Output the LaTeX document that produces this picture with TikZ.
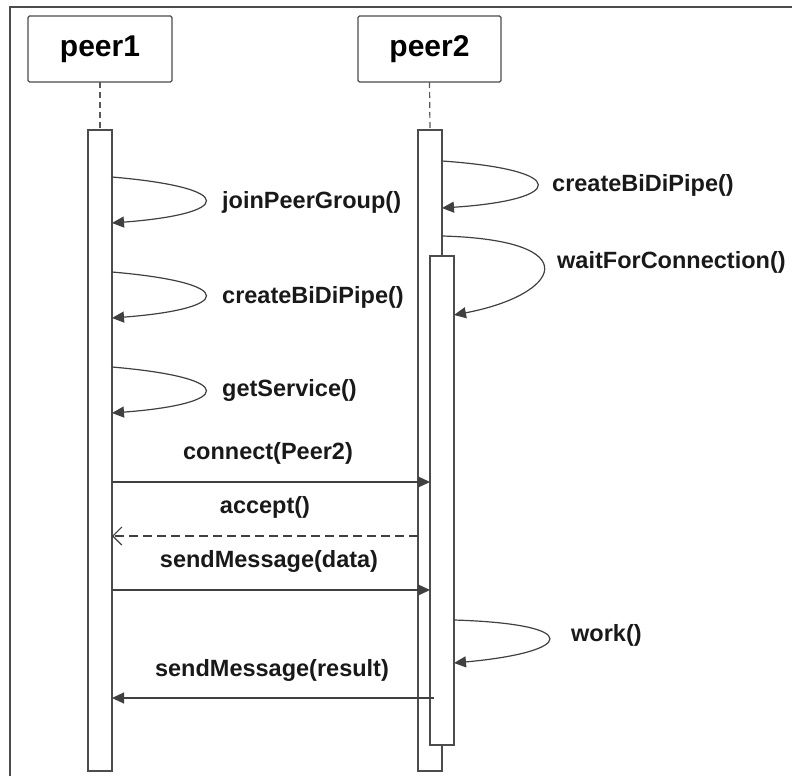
\documentclass[tikz,border=0pt]{standalone}
\usepackage{fontspec}
\setmainfont{Liberation Sans}
\usetikzlibrary{arrows.meta}

\begin{document}
\begin{tikzpicture}[x=1pt, y=-1pt, >={Triangle[length=12pt,width=11pt]},
    lineclr/.style={draw=black!70},
    peerbox/.style={lineclr, line width=1.4pt, rounded corners=1.5pt, fill=white,
        inner sep=0pt, outer sep=0pt, font=\fontsize{30}{34}\selectfont\bfseries},
    bar/.style={lineclr, line width=1.4pt, fill=white, minimum width=24pt,
        inner sep=0pt, outer sep=0pt},
    lifeline/.style={black!65, line width=1.2pt, dash pattern=on 6pt off 4pt},
    msg/.style={black!75, line width=1.2pt},
    lbl/.style={black!90, inner sep=0pt, font=\fontsize{23.5}{27}\selectfont\bfseries}]
    \useasboundingbox (0,0) rectangle (792,776);

    % 1. Khung ngoai (chi thay canh tren va canh trai)
    \draw[black!70, line width=1.6pt] (10,776) -- (10,7) -- (792,7);

    % 2. Hai doi tuong peer1, peer2
    \node[peerbox, minimum width=144pt, minimum height=66pt] (peer1) at (100,49) {peer1};
    \node[peerbox, minimum width=143pt, minimum height=66pt] (peer2) at (429.5,49) {peer2};

    % 3. Thanh kich hoat
    \node[bar, minimum height=641pt] (act1) at (100,450.5) {};
    \node[bar, minimum height=641pt] (act2) at (430,450.5) {};
    \node[bar, minimum height=489pt] (act2b) at (442,500.5) {};

    \draw[lifeline] (peer1.south) -- (act1.north);
    \draw[lifeline] (peer2.south) -- (act2.north);

    % 4. Loi goi tu than cua peer1
    \draw[msg, ->] (act1.east |- 0,177) .. controls (240,188) and (232,214) .. (act1.east |- 0,223);
    \draw[msg, ->] (act1.east |- 0,272) .. controls (240,283) and (232,309) .. (act1.east |- 0,318);
    \draw[msg, ->] (act1.east |- 0,367) .. controls (240,378) and (232,404) .. (act1.east |- 0,413);
    \node[lbl, anchor=west] (lJoin) at (222,202) {joinPeerGroup()};
    \node[lbl, anchor=west] (lPipe1) at (222,297) {createBiDiPipe()};
    \node[lbl, anchor=west] (lServ) at (222,390) {getService()};

    % 5. Loi goi tu than cua peer2
    \draw[msg, ->] (act2.east |- 0,161) .. controls (572,170) and (565,200) .. (act2.east |- 0,208);
    \draw[msg, ->] (act2.east |- 0,236) .. controls (590,240) and (560,295) .. (act2b.east |- 0,315);
    \draw[msg, ->] (act2b.east |- 0,620) .. controls (585,624) and (575,652) .. (act2b.east |- 0,663);
    \node[lbl, anchor=west] (lPipe2) at (552,185) {createBiDiPipe()};
    \node[lbl, anchor=west] (lWait) at (557,262) {waitForConnection()};
    \node[lbl, anchor=west] (lWork) at (571,635) {work()};

    % 6. Thong diep giua hai peer
    \draw[msg, ->] (act1.east |- 0,482) -- (act2b.west |- 0,482);
    \draw[msg, dash pattern=on 9pt off 5pt, -{Straight Barb[length=9pt,width=18pt]}]
        (act2.west |- 0,536) -- (act1.east |- 0,536);
    \draw[msg, ->] (act1.east |- 0,590) -- (act2b.west |- 0,590);
    \draw[msg, ->] ([xshift=4pt]act2b.west |- 0,698) -- (act1.east |- 0,698);
    \node[lbl] (lConn) at (268,453) {connect(Peer2)};
    \node[lbl] (lAcc) at (265,507) {accept()};
    \node[lbl] (lData) at (269,561) {sendMessage(data)};
    \node[lbl] (lRes) at (272,670) {sendMessage(result)};

\end{tikzpicture}
\end{document}
